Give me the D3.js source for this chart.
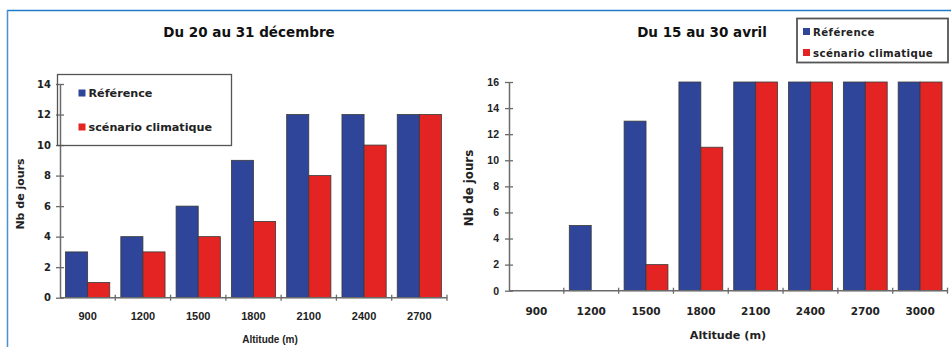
<!DOCTYPE html>
<html>
<head>
<meta charset="utf-8">
<script src="https://cdn.jsdelivr.net/npm/d3@7"></script>
<style>
  html, body { margin: 0; padding: 0; background: #fff; }
  svg { display: block; font-family: "DejaVu Sans", Arial, sans-serif; }
</style>
</head>
<body>
<svg id="chart" width="951" height="347"></svg>
<script>
// Nombre de jours enneigés selon l'altitude
const seriesNames = ["Référence", "scénario climatique"];
const seriesColors = ["#2E4599", "#E42323"];

const decAltitudes = ["900", "1200", "1500", "1800", "2100", "2400", "2700"];
const decReference = [3, 4, 6, 9, 12, 12, 12];
const decScenario  = [1, 3, 4, 5, 8, 10, 12];
const decTicks = [0, 2, 4, 6, 8, 10, 12, 14];

const aprAltitudes = ["900", "1200", "1500", "1800", "2100", "2400", "2700", "3000"];
const aprReference = [0, 5, 13, 16, 16, 16, 16, 16];
const aprScenario  = [0, 0, 2, 11, 16, 16, 16, 16];
const aprTicks = [0, 2, 4, 6, 8, 10, 12, 14, 16];

const svg = d3.select("#chart");
const SANS = "'Liberation Sans', Arial, sans-serif";
const WIDE = "'DejaVu Sans', Verdana, sans-serif";

// cadre bleu
svg.append("line").attr("x1", 7).attr("x2", 951).attr("y1", 10.5).attr("y2", 10.5)
  .attr("stroke", "#1F7BC8").attr("stroke-width", 1.5);
svg.append("line").attr("x1", 7.5).attr("x2", 7.5).attr("y1", 10).attr("y2", 347)
  .attr("stroke", "#4A90D0").attr("stroke-width", 1.5);

function drawChart(cfg) {
  const g = svg.append("g");
  const x = d3.scaleBand().domain(cfg.categories).range([cfg.x0, cfg.x1])
    .paddingInner(0.2).paddingOuter(0.1);
  const xs = d3.scaleBand().domain([0, 1]).range([0, x.bandwidth()]);
  const y = d3.scaleLinear().domain([0, cfg.max]).range([cfg.yBase, cfg.yTop]);
  const axisColor = "#6b6b6b";

  // barres
  const rows = cfg.categories.map((c, i) => ({ cat: c, vals: [cfg.ref[i], cfg.scen[i]] }));
  const grp = g.selectAll("g.grp").data(rows).join("g")
    .attr("transform", d => `translate(${x(d.cat)},0)`);
  grp.selectAll("rect").data(d => d.vals.map((v, k) => ({ v, k })).filter(e => e.v > 0)).join("rect")
    .attr("x", e => xs(e.k))
    .attr("width", xs.bandwidth())
    .attr("y", e => y(e.v))
    .attr("height", e => y(0) - y(e.v))
    .attr("fill", e => seriesColors[e.k])
    .attr("stroke", "#3a3a3a").attr("stroke-width", 0.8);

  // axe Y
  const yAxis = d3.axisLeft(y).tickValues(cfg.ticks).tickSize(4).tickPadding(5)
    .tickSizeOuter(0);
  const ya = g.append("g").attr("transform", `translate(${cfg.x0},0)`).call(yAxis);
  ya.select(".domain").attr("stroke", axisColor).attr("stroke-width", 1.5);
  ya.selectAll(".tick line").attr("stroke", axisColor).attr("x2", 4).attr("x1", -4).attr("stroke-width", 1.3);
  ya.selectAll(".tick text").attr("x", cfg.yLabelX).attr("font-size", cfg.yTickFs).attr("font-weight", "bold")
    .attr("fill", "#222").attr("font-family", cfg.yTickFont);

  // axe X
  const xa = g.append("g");
  xa.append("line").attr("x1", cfg.x0).attr("x2", cfg.x1)
    .attr("y1", y(0)).attr("y2", y(0)).attr("stroke", axisColor).attr("stroke-width", 1.5);
  const bounds = d3.range(cfg.categories.length + 1).map(i => cfg.x0 + i * x.step());
  xa.selectAll("line.tk").data(bounds.slice(1)).join("line").attr("class", "tk")
    .attr("x1", d => d).attr("x2", d => d)
    .attr("y1", y(0) - 3).attr("y2", y(0) + 3)
    .attr("stroke", axisColor).attr("stroke-width", 1.3);
  xa.selectAll("text").data(cfg.categories).join("text")
    .attr("x", d => x(d) + x.bandwidth() / 2)
    .attr("y", cfg.xLabelY)
    .attr("text-anchor", "middle").attr("font-size", cfg.xTickFs).attr("font-weight", "bold")
    .attr("font-family", cfg.xTickFont)
    .attr("fill", "#222").text(d => d);

  // titres
  g.append("text").attr("x", cfg.titleX).attr("y", 37).attr("text-anchor", "middle")
    .attr("font-family", WIDE)
    .attr("font-size", 13.5).attr("font-weight", "bold").attr("fill", "#111").text(cfg.title);
  g.append("text").attr("x", cfg.xTitleX).attr("y", cfg.xTitleY).attr("text-anchor", "middle")
    .attr("font-family", cfg.xTitleFont)
    .attr("font-size", cfg.xTitleFs).attr("font-weight", "bold").attr("fill", "#222").text("Altitude (m)");
  g.append("text")
    .attr("transform", `translate(${cfg.yTitleX},${cfg.yTitleY}) rotate(-90)`)
    .attr("font-family", WIDE)
    .attr("text-anchor", "middle").attr("font-size", cfg.yTitleFs).attr("font-weight", "bold")
    .attr("fill", "#222").text("Nb de jours");

  // légende
  const L = cfg.legend;
  const lg = g.append("g");
  lg.append("rect").attr("x", L.x).attr("y", L.y).attr("width", L.w).attr("height", L.h)
    .attr("fill", L.fill).attr("stroke", "#555").attr("stroke-width", L.sw);
  seriesNames.forEach((name, k) => {
    const cy = L.y + L.rows[k];
    lg.append("rect").attr("x", L.x + L.sx).attr("y", cy - 3.5).attr("width", 7).attr("height", 7)
      .attr("fill", seriesColors[k]);
    lg.append("text").attr("x", L.x + L.sx + 10).attr("y", cy + 4)
      .attr("font-family", WIDE)
      .attr("font-size", L.fs).attr("font-weight", "bold").attr("fill", "#222")
      .attr("letter-spacing", L.ls).text(name);
  });
}

drawChart({
  categories: decAltitudes, ref: decReference, scen: decScenario, ticks: decTicks, max: 14,
  x0: 60, x1: 447, yBase: 297.7, yTop: 84,
  yTickFs: 10, yTickFont: WIDE, yLabelX: -9,
  xTickFs: 11, xTickFont: SANS, xLabelY: 320,
  title: "Du 20 au 31 décembre", titleX: 249,
  xTitleX: 270, xTitleY: 343, xTitleFs: 10, xTitleFont: SANS,
  yTitleX: 24, yTitleY: 194, yTitleFs: 11,
  legend: { x: 57.5, y: 74.5, w: 174, h: 71, sx: 21, rows: [18.5, 52.5], fs: 11.2, ls: 0, fill: "none", sw: 1.3 }
});

drawChart({
  categories: aprAltitudes, ref: aprReference, scen: aprScenario, ticks: aprTicks, max: 16,
  x0: 509, x1: 947.5, yBase: 290.7, yTop: 82,
  yTickFs: 10.5, yTickFont: SANS, yLabelX: -10,
  xTickFs: 10.5, xTickFont: WIDE, xLabelY: 315,
  title: "Du 15 au 30 avril", titleX: 702,
  xTitleX: 728, xTitleY: 339, xTitleFs: 11.2, xTitleFont: WIDE,
  yTitleX: 473, yTitleY: 188, yTitleFs: 11.8,
  legend: { x: 797, y: 18.5, w: 151, h: 44, sx: 6, rows: [13, 34], fs: 10.2, ls: 0.4, fill: "#fff", sw: 1.8 }
});
</script>
</body>
</html>
